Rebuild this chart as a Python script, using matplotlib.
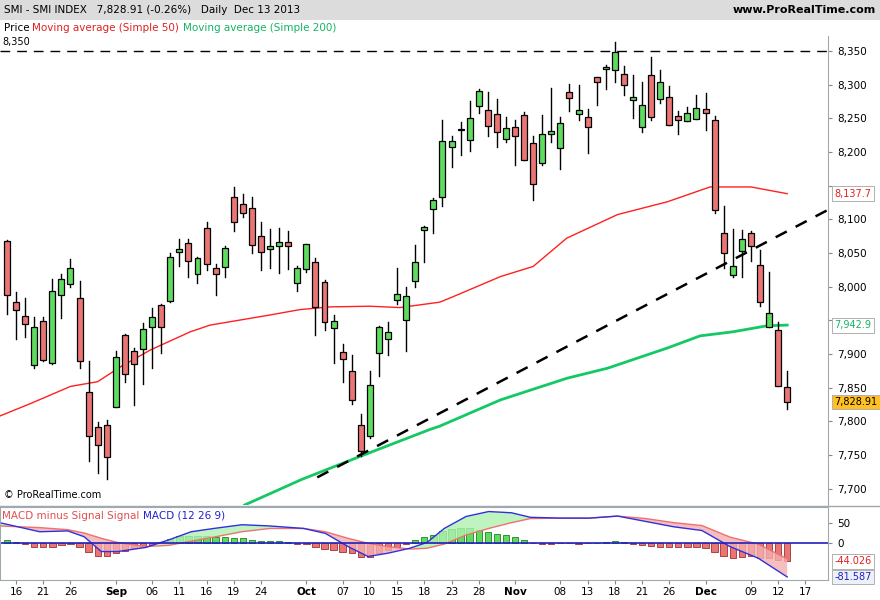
import matplotlib
matplotlib.use("Agg")
import matplotlib.pyplot as plt
from matplotlib.patches import Rectangle
import numpy as np

opens  = [8068,7977,7957,7884,7949,7887,7987,8004,7983,7844,7792,7795,7822,7928,7905,7907,7940,7973,7979,8051,
          8065,8019,8087,8028,8029,8133,8122,8117,8075,8056,8060,8066,8005,8026,8036,8007,7938,7903,7875,7795,
          7778,7901,7922,7980,7950,8008,8084,8115,8133,8207,8233,8217,8268,8262,8256,8219,8237,8255,8213,8183,
          8226,8206,8289,8256,8252,8311,8323,8321,8315,8277,8237,8314,8278,8281,8253,8246,8249,8263,8247,8079,
          8017,8053,8079,8032,7940,7936,7851]
closes = [7987,7965,7944,7940,7891,7993,8011,8027,7889,7778,7765,7747,7895,7870,7885,7937,7955,7940,8044,8056,
          8038,8042,8033,8019,8057,8096,8109,8062,8051,8060,8066,8060,8028,8063,7970,7947,7949,7892,7832,7756,
          7854,7940,7933,7989,7986,8036,8088,8128,8216,8216,8234,8250,8291,8238,8229,8235,8223,8188,8152,8226,
          8231,8243,8280,8262,8237,8304,8326,8348,8299,8281,8269,8252,8304,8240,8247,8258,8265,8258,8114,8050,
          8030,8071,8060,7977,7961,7853,7829]
highs  = [8070,7992,7983,7955,7955,8012,8019,8041,8009,7890,7799,7802,7904,7930,7909,7946,7969,7975,8050,8071,
          8071,8044,8096,8033,8061,8148,8137,8133,8096,8085,8087,8082,8031,8064,8042,8010,7958,7915,7899,7811,
          7875,7942,7948,8028,8000,8062,8090,8131,8248,8224,8245,8276,8293,8289,8279,8252,8248,8259,8224,8255,
          8295,8252,8301,8300,8264,8311,8329,8363,8328,8314,8304,8341,8322,8298,8260,8267,8284,8288,8253,8120,
          8086,8084,8082,8054,8022,7947,7875]
lows   = [7959,7923,7925,7879,7889,7885,7953,8000,7879,7741,7724,7714,7821,7858,7824,7856,7879,7902,7977,8031,
          8015,8005,8025,7988,8015,8083,8103,8050,8025,8027,8020,8026,7993,8022,7929,7936,7887,7859,7826,7749,
          7776,7868,7899,7974,7905,7999,8036,8080,8119,8178,8195,8202,8258,8224,8208,8214,8180,8188,8129,8181,
          8215,8174,8260,8248,8198,8269,8294,8304,8284,8250,8230,8247,8272,8240,8226,8246,8249,8232,8109,8028,
          8014,8014,8038,7971,7940,7853,7819]

ma50_idx = [-0.8,2.5,7,10,12.5,15.8,20.2,22.4,29,32.3,35.6,40,43.3,47.7,48.8,54.4,58,61.7,67.3,72.8,77.5,82,86]
ma50_val = [7808,7826,7852,7859,7881,7906,7933,7943,7958,7966,7970,7971,7969,7977,7983,8015,8030,8072,8107,8126,8148,8148,8138]
ma200_idx = [26.2,32.5,38.9,46.6,47.7,54.4,61.7,66.2,72.8,76.4,80,83.8,86]
ma200_val = [7676,7714,7748,7788,7793,7832,7864,7879,7909,7927,7933,7942,7943]

trend_idx = [34.2, 90.5]
trend_val = [7717, 8114]
resistance = 8350

hist = [7,3,-2,-8,-10,-8,-4,-2,-10,-22,-31,-32,-24,-19,-12,-8,-4,2,10,18,
        18,18,18,15,15,14,14,9,6,6,5,3,-2,-2,-10,-14,-16,-20,-24,-34,
        -34,-24,-16,-8,-1,7,15,21,30,35,37,36,32,27,23,19,15,8,0,-1,
        -1,0,0,-1,0,1,3,5,3,-2,-4,-6,-8,-8,-10,-10,-10,-12,-22,-31,
        -36,-34,-32,-36,-36,-40,-44]
macd_idx = [-0.8,3.6,6.7,8.5,10.4,12.2,15.3,17.8,20.3,22.8,25.9,29,32.7,35.1,37.6,39.8,42,44.4,46.3,48.2,
            50.6,53.1,55.6,57.7,61.1,64.2,67.3,70.4,73.5,76.6,79.7,82.8,86]
macd_val = [50,28,30,16,-20,-20,-10,8,28,36,45,42,36,24,-8,-32,-24,-12,2,36,
            65,77,74,63,61,61,66,53,40,31,-8,-36,-81.6]
signal_val = [42,38,33,25,12,2,-8,-5,5,15,28,36,36,28,12,0,-8,-14,-12,-2,
              20,36,50,60,61,61,66,60,50,43,15,-2,-37.6]

tick_idx = [1,4,7,12,16,19,22,25,28,33,37,40,43,46,49,52,56,61,64,67,70,73,77,82,85,88]
tick_lab = ["16","21","26","Sep","06","11","16","19","24","Oct","07","10","15","18","23","28","Nov",
            "08","13","18","21","26","Dec","09","12","17"]
price_ticks = [7700,7750,7800,7850,7900,7950,8000,8050,8100,8150,8200,8250,8300,8350]
hidden_ticks = [7950,8150]

W, H = 880, 600
fig = plt.figure(figsize=(8.8, 6.0), dpi=100)
fig.patch.set_facecolor("white")
def ax_px(x0, y0, x1, y1):
    return fig.add_axes([x0/W, 1-y1/H, (x1-x0)/W, (y1-y0)/H])

XL = (-0.77, 90.5)
GREEN = "#5fdc5f"; RED = "#ea7575"

hd = ax_px(0, 0, 880, 20); hd.set_axis_off()
hd.add_patch(Rectangle((0,0),1,1,transform=hd.transAxes,color="#dcdcdc"))
hd.text(0.005,0.5,"SMI - SMI INDEX   7,828.91 (-0.26%)   Daily  Dec 13 2013",va="center",fontsize=7.5)
hd.text(0.995,0.5,"www.ProRealTime.com",va="center",ha="right",fontsize=8,fontweight="bold")

ax = ax_px(0, 36, 828, 505)
ax.set_xlim(*XL); ax.set_ylim(7676, 8372)
for i,(o,c,h,l) in enumerate(zip(opens,closes,highs,lows)):
    ax.plot([i,i],[l,h],color="black",lw=1,zorder=2)
    col = GREEN if c >= o else RED
    ax.add_patch(Rectangle((i-0.33,min(o,c)),0.66,max(abs(c-o),1.5),facecolor=col,edgecolor="black",lw=0.9,zorder=3))
ax.plot(ma50_idx, ma50_val, color="#ff2020", lw=1, zorder=1)
ax.plot(ma200_idx, ma200_val, color="#14c864", lw=2, zorder=1)
ax.plot(trend_idx, trend_val, color="black", lw=1.8, ls=(0,(5,4)), zorder=4)
ax.axhline(resistance, color="black", lw=1, ls=(0,(7,5)))
ax.yaxis.tick_right()
ax.set_yticks(price_ticks)
ax.set_yticklabels(["" if v in hidden_ticks else f"{v:,}" for v in price_ticks], fontsize=7.5)
ax.set_xticks([])
ax.tick_params(axis="y", length=3, color="#888888")
for s in ["top","left","bottom"]: ax.spines[s].set_visible(False)
ax.spines["right"].set_color("#a0a8b0")
ax.text(0.003, 8350+6, "8,350", fontsize=7, transform=ax.get_yaxis_transform(), va="bottom")
ax.text(0.005, 0.015, "© ProRealTime.com", fontsize=7, transform=ax.transAxes)
def tag(axx, y, txt, fc, tc):
    axx.text(1.008, y, txt, transform=axx.get_yaxis_transform(), fontsize=7, color=tc, va="center",
             bbox=dict(boxstyle="square,pad=0.25", fc=fc, ec="#b0b0b0", lw=0.7), clip_on=False)
tag(ax, 8137.7, "8,137.7", "white", "#e02020")
tag(ax, 7942.9, "7,942.9", "white", "#14b464")
tag(ax, 7828.91, "7,828.91", "#ffc020", "black")

lg = ax_px(0, 20, 880, 36); lg.set_axis_off()
t = lg.text(0.004, 0.5, "Price ", va="center", fontsize=7.5)
t = lg.annotate("Moving average (Simple 50) ", xycoords=t, xy=(1,0), va="bottom", fontsize=7.5, color="#e02020")
lg.annotate("Moving average (Simple 200)", xycoords=t, xy=(1,0), va="bottom", fontsize=7.5, color="#14b464")

m = ax_px(0, 507, 828, 580)
m.set_xlim(*XL); m.set_ylim(-89, 88)
m.bar(range(len(hist)), hist, width=0.7, color=[GREEN if v>0 else RED for v in hist], edgecolor=["#208020" if v>0 else "#a03030" for v in hist], lw=0.6)
mi = np.array(macd_idx); mv = np.array(macd_val); sv = np.array(signal_val)
m.fill_between(mi, mv, sv, where=mv>=sv, interpolate=True, color="#b0f0b0", alpha=0.8, lw=0)
m.fill_between(mi, mv, sv, where=mv<sv, interpolate=True, color="#f4b0b0", alpha=0.8, lw=0)
m.plot(mi, sv, color="#f07070", lw=1)
m.plot(mi, mv, color="#3030e0", lw=1)
m.axhline(0, color="#2020c0", lw=1.2)
m.yaxis.tick_right()
m.set_yticks([0,50]); m.set_yticklabels(["0","50"], fontsize=7.5)
m.set_xticks(tick_idx)
m.set_xticklabels(tick_lab, fontsize=7.5)
for lbl in m.get_xticklabels():
    if not lbl.get_text().isdigit(): lbl.set_fontweight("bold")
m.tick_params(axis="x", length=3, pad=2, color="#888888")
m.tick_params(axis="y", length=3, color="#888888")
for s in m.spines.values(): s.set_color("#a0a8b0")
tag(m, -44.026, "-44.026", "white", "#e02020")
tag(m, -81.587, "-81.587", "#eef0f8", "#2020c0")
t = m.text(0.003, 0.88, "MACD minus Signal Signal ", transform=m.transAxes, fontsize=7.5, color="#e05050", va="center")
m.annotate("MACD (12 26 9)", xycoords=t, xy=(1,0), va="bottom", fontsize=7.5, color="#2020d0")

fig.add_artist(plt.Line2D([0,1],[1-506/H,1-506/H], color="#a0a8b0", lw=1))
fig.savefig("out.png", dpi=100)
